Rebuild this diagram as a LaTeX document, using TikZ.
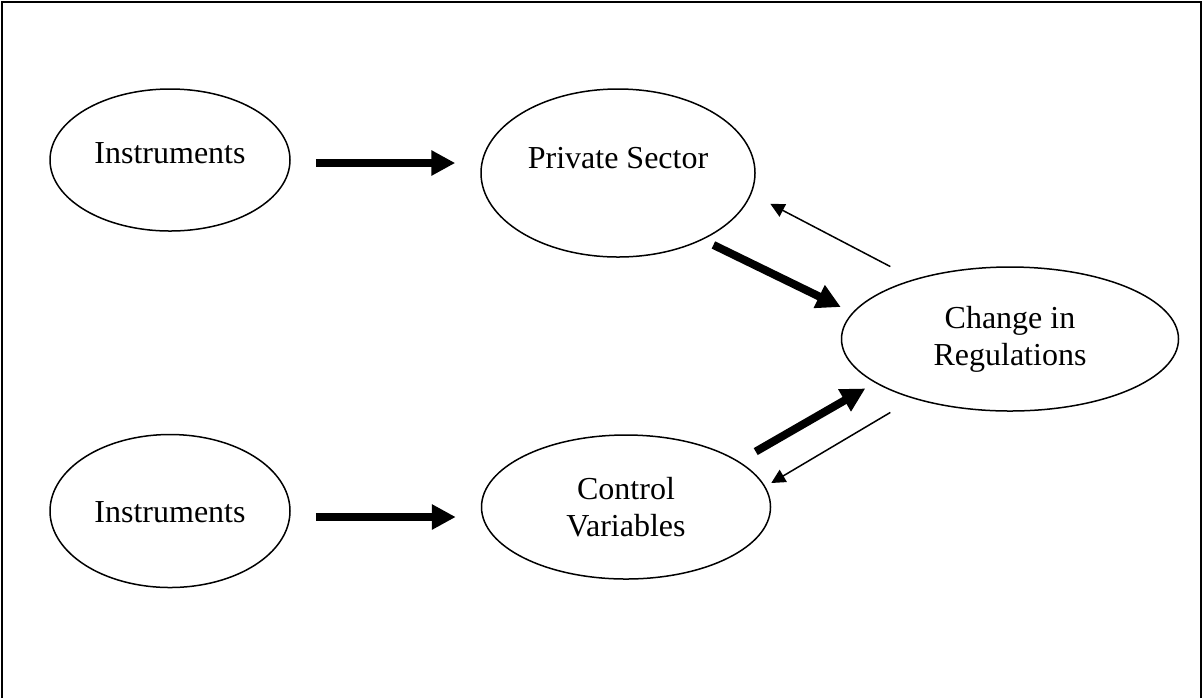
\documentclass[tikz,border=0pt]{standalone}
\usepackage{fontspec}
\setmainfont{Liberation Serif}
\usepackage{tikz}
\usetikzlibrary{shapes.geometric,arrows.meta}

\begin{document}
\begin{tikzpicture}[x=0.5pt,y=-0.5pt,
	oval/.style={draw, ellipse, line width=0.75pt, inner sep=0pt, align=center},
	bigarrow/.style={line width=4pt, -{Triangle[length=12pt,width=12pt]}},
	thinarrow/.style={line width=0.75pt, -{Triangle[length=7pt,width=7pt]}}]
							\fontsize{16}{18.5}\selectfont
							\useasboundingbox (0,0) rectangle (1203,698);
							\draw[line width=1pt] (2,698) -- (2,2) -- (1201,2) -- (1201,698);
							\node[oval, minimum width=120pt, minimum height=71pt, text height=11pt, text depth=8pt] (ins1) at (170,160) {Instruments};
							\node[oval, minimum width=120pt, minimum height=76.5pt, text height=11pt, text depth=0pt] (ins2) at (170,511) {Instruments};
							\node[oval, minimum width=137pt, minimum height=84pt, text height=11pt, text depth=16pt] (ps) at (618,173) {Private Sector};
							\node[oval, minimum width=168.5pt, minimum height=72pt] (chg) at (1010,339) {Change in\\Regulations};
							\node[oval, minimum width=144.5pt, minimum height=72pt] (ctl) at (626,507) {Control\\Variables};
							\draw[bigarrow] ([xshift=12.5pt,yshift=-1.5pt]ins1.east) -- ([xshift=-12.5pt,yshift=5pt]ps.west);
							\draw[bigarrow] ([xshift=12.5pt,yshift=-3pt]ins2.east) -- ([xshift=-12.5pt,yshift=-5pt]ctl.west);
							\draw[bigarrow] ([xshift=-1pt,yshift=-6pt]ps.south east) -- ([yshift=16pt]chg.west);
							\draw[thinarrow] ([yshift=10.5pt]chg.north west) -- ([xshift=27.5pt,yshift=14.5pt]ps.south east);
							\draw[bigarrow] ([xshift=13.5pt,yshift=2pt]ctl.north east) -- ([xshift=-12.5pt,yshift=1pt]chg.south west);
							\draw[thinarrow] ([yshift=-11pt]chg.south west) -- ([yshift=12pt]ctl.east);
						\end{tikzpicture}
\end{document}
